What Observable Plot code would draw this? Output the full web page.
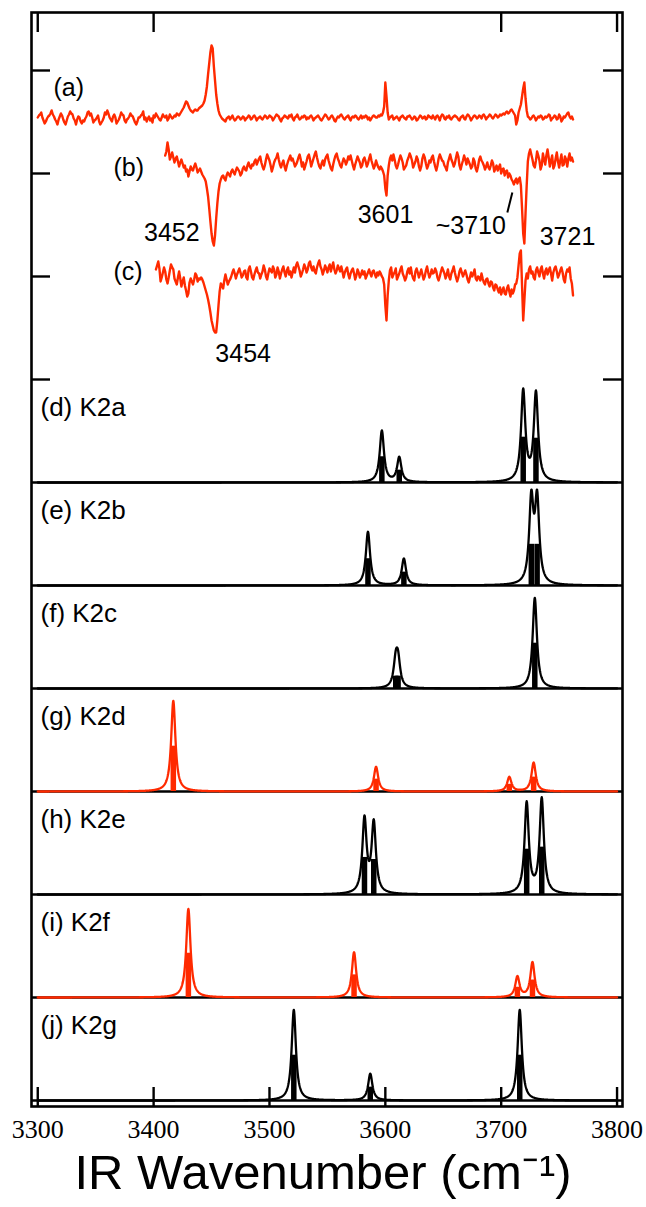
<!DOCTYPE html>
<html>
<head>
<meta charset="utf-8">
<script src="https://cdn.jsdelivr.net/npm/d3@7"></script>
<script src="https://cdn.jsdelivr.net/npm/@observablehq/plot@0.6"></script>
<style>
  body { margin: 0; background: #fff; }
  #chart svg { display: block; }
</style>
</head>
<body>
<div id="chart"></div>
<script>
// ---- axis ticks -------------------------------------------------------
const xTicks = [3300, 3400, 3500, 3600, 3700, 3800];
const topTicks = [3300, 3400, 3700, 3800];
const sideTicks = [7, 8, 9, 10];

// ---- measured IR spectra (a)-(c), sampled every 1 cm-1 ---------------
const traceLabels = ["(a)", "(b)", "(c)"];
const traceStart = [3300, 3410, 3402];
const traceA = [
  1,3,4,6,1,-2,-5,-3,0,2,3,5,8,4,2,-1,-3,-6,-1,2,
  5,3,-1,-4,-6,-2,2,4,7,5,4,0,-2,-6,-1,2,1,-3,-5,-2,
  -3,0,2,6,7,3,5,1,-4,-2,-1,1,3,-3,-6,-4,-2,1,6,4,
  8,5,1,-1,-3,2,4,1,-5,-3,-1,2,6,4,3,-2,-4,-1,0,2,
  5,3,2,-1,-4,-6,-3,1,1,3,4,7,-1,1,-3,0,2,-2,0,-4,
  3,1,5,3,1,-1,-2,1,4,2,1,3,-2,0,4,2,0,1,3,2,
  5,4,3,5,7,9,11,14,17,16,13,10,8,7,6,8,9,8,8,10,
  11,12,13,15,18,24,32,44,55,66,73,70,52,38,24,15,8,4,2,0,
  -1,-2,-3,0,1,2,-1,1,3,0,-2,-1,1,2,1,-1,0,2,1,-2,
  0,1,3,2,-1,0,2,3,1,-2,0,1,2,0,-1,1,3,2,0,1,
  3,2,1,-2,0,2,4,3,2,-1,-3,0,1,3,2,1,0,3,2,4,
  0,-2,1,2,4,1,-1,0,2,1,3,2,-1,1,0,2,3,1,-2,0,
  1,2,3,1,-1,-2,0,2,4,3,1,-1,0,2,3,1,-2,-3,0,2,
  1,3,4,2,0,-1,1,2,3,0,-2,1,2,1,3,2,0,-1,1,3,
  0,2,1,3,2,-1,1,-2,0,2,3,2,1,1,3,2,4,3,6,12,
  36,22,6,-1,1,2,3,-1,0,1,2,0,-2,1,2,3,1,0,-1,2,
  2,3,1,-1,0,2,1,-2,-1,1,3,2,0,1,2,-1,0,3,2,1,
  0,3,1,-1,2,3,1,-2,2,4,3,0,-1,2,1,3,0,-1,1,2,
  3,2,1,-1,-2,1,2,3,0,-1,2,4,3,1,-2,0,2,3,2,0,
  1,3,2,0,3,4,2,-1,1,2,4,3,1,0,2,4,3,1,2,4,
  3,4,5,4,6,7,5,6,8,9,7,5,3,-6,-2,6,10,14,22,30,
  36,20,8,2,1,-1,0,2,3,1,-2,0,2,1,3,2,-1,0,2,1,
  2,4,3,-2,0,1,3,2,-1,0,4,2,-3,-1,2,1,3,5,6,2,
  0,2,-1
];
const traceB = [
  8,12,21,14,4,7,11,6,1,5,7,2,-3,1,4,0,-4,-2,-8,-6,
  -13,-8,-3,-6,-7,-3,0,-4,-9,-7,-5,-8,-11,-13,-15,-18,-25,-33,-45,-58,
  -70,-78,-82,-72,-55,-40,-28,-20,-16,-13,-12,-15,-17,-12,-9,-11,-13,-8,-6,-9,
  -11,-7,-4,-6,-8,-12,-10,-5,-3,-6,-7,-2,1,-3,-5,-1,-2,2,4,-1,
  2,5,7,1,-3,-6,-2,4,9,6,3,-2,-8,-4,1,4,6,10,4,-1,
  -4,0,3,-3,-7,-2,2,5,8,3,5,1,-3,-1,2,6,9,4,-3,1,
  -6,-2,2,7,9,4,-3,1,5,9,12,6,1,-3,-5,0,3,-2,4,7,
  9,3,-1,-5,-7,-1,4,8,10,5,2,-2,-4,1,5,3,-1,2,7,4,
  8,3,-2,-6,-1,3,7,4,1,-4,-2,4,6,2,-3,0,5,9,3,-1,
  -5,-2,3,-1,-4,-6,-3,-5,-8,-12,-25,-32,-12,-2,5,8,3,9,4,-2,
  -5,-1,4,8,5,1,-6,-4,-2,3,6,10,7,3,-4,-1,2,7,4,-3,
  -7,-3,5,9,6,0,-5,-2,3,1,6,8,2,-3,-7,-2,5,9,6,3,
  2,-2,-4,-7,1,5,9,4,1,-3,0,6,11,7,-2,-6,-1,3,8,4,
  -1,5,2,-1,-5,-3,5,2,-5,-8,-3,4,7,3,1,-2,-6,-3,1,-4,
  -6,-2,3,0,-8,-5,-2,-7,-4,-1,-10,-6,-5,-12,-8,-7,-14,-10,-12,-16,
  -18,-21,-17,-15,-20,-16,-14,-22,-45,-70,-80,-50,-22,2,10,14,9,4,-2,-4,
  3,12,8,3,-6,-2,10,4,-1,8,14,6,-3,3,8,-5,-2,5,11,2,
  -4,3,9,-2,-1,7,4,-3,5,10,3,6,2
];
const traceC = [
  6,10,14,7,-6,-2,3,8,4,-4,-8,-2,5,11,8,6,-3,-6,-9,-2,
  4,-3,-11,-6,-2,-10,-15,-21,-18,-7,-3,-6,-9,-4,2,0,-6,-3,-4,-2,
  -4,-7,-11,-15,-19,-24,-30,-37,-45,-50,-55,-57,-57,-45,-30,-16,-8,-10,-13,-5,
  1,-4,-9,-6,-4,-1,3,6,2,-3,1,4,7,3,-2,0,4,5,-2,-4,
  6,9,4,-2,-4,1,5,8,3,2,-3,1,4,10,6,-1,-4,2,7,5,
  3,9,6,-2,1,8,4,-3,2,6,9,3,-1,5,8,1,4,-2,3,8,
  3,10,13,9,5,-1,2,6,11,8,3,6,12,14,8,5,9,4,2,8,
  12,15,9,6,1,5,10,7,3,8,11,4,9,13,6,2,5,10,7,4,
  9,4,-2,3,6,8,1,-3,2,5,7,2,-4,0,6,3,-2,1,5,1,
  4,-3,0,3,6,2,-1,4,5,1,-2,3,0,4,2,-1,-3,-9,-30,-45,
  -20,-5,5,8,-2,1,3,7,-4,-1,2,6,9,2,-1,-5,-2,4,7,2,
  8,1,-3,-5,4,7,3,-2,2,6,1,-4,-1,5,9,3,-2,1,6,2,
  3,7,4,-2,-5,-1,4,8,5,2,-3,1,6,-1,-4,2,5,9,3,-2,
  -6,-2,4,7,3,-1,2,5,1,-4,-7,-2,3,-1,2,6,-3,-5,-1,-2,
  -5,2,-3,-7,-9,-4,-3,-8,-11,-6,-7,-12,-15,-9,-10,-14,-17,-12,-19,-15,
  -12,-18,-19,-13,-10,-16,-21,-14,-18,-15,-9,-8,-2,10,22,25,-10,-45,-25,-5,
  2,-3,6,9,2,4,-2,-4,5,8,3,-1,6,9,2,-3,4,7,1,5,
  8,2,-5,3,7,9,4,-2,1,5,8,3,-4,-7,2,6,4,8,-3,-8,
  -20
];

// peak assignments written under traces (b) and (c)
const peakTexts = ["3452", "3601", "~3710", "3721", "3454"];
const peakWaves = [3452, 3601, 3710, 3721, 3454];

// ---- computed harmonic spectra (d)-(j): stick frequency / intensity --
const isomers = ["(d) K2a", "(e) K2b", "(f) K2c", "(g) K2d", "(h) K2e", "(i) K2f", "(j) K2g"];
const stickFreq = [
  [3597, 3612, 3719, 3730],
  [3585, 3616, 3726, 3731],
  [3609, 3611, 3729],
  [3417, 3592, 3707, 3728],
  [3582, 3590, 3722, 3735],
  [3430, 3573, 3714, 3727],
  [3521, 3587, 3716]
];
const stickInt = [
  [0.25, 0.12, 0.44, 0.43],
  [0.26, 0.13, 0.40, 0.40],
  [0.12, 0.12, 0.44],
  [0.44, 0.12, 0.07, 0.14],
  [0.36, 0.34, 0.44, 0.46],
  [0.43, 0.22, 0.10, 0.17],
  [0.44, 0.13, 0.44]
];
const matchesExperiment = [false, false, false, true, false, true, false];

// ---- layout -----------------------------------------------------------
const RED = "#ff2a00";
const FONT = "Liberation Sans, Arial, Helvetica, sans-serif";
const PX = 1 / 103;              // one panel = 103 px
const xDom = [3294.6, 3804.7];
const yDom = [-0.058, 10.563];
const XPX = 1 / 1.159;           // cm-1 per px
const GAMMA = 2.2;               // Lorentzian half width (cm-1)
const traceBase = [9.534, 9.097, 8.010];

// panel baselines: (d) at 6 ... (j) at 0
const panelBase = isomers.map((_, i) => isomers.length - 1 - i);

// Lorentzian-broadened stick spectra
const curves = [];
const sticks = [];
isomers.forEach((name, p) => {
  const base = panelBase[p];
  const color = matchesExperiment[p] ? RED : "black";
  for (let w = 3300; w <= 3800.001; w += 0.25) {
    let s = 0;
    stickFreq[p].forEach((f, k) => {
      s += 2 * stickInt[p][k] * GAMMA * GAMMA / ((w - f) ** 2 + GAMMA * GAMMA);
    });
    curves.push({panel: name, w, y: base + s, color});
  }
  stickFreq[p].forEach((f, k) => {
    sticks.push({w: f, y1: base, y2: base + stickInt[p][k], color});
  });
});

// experimental traces
const traces = [];
[traceA, traceB, traceC].forEach((arr, t) => {
  arr.forEach((v, i) => {
    traces.push({trace: traceLabels[t], w: traceStart[t] + i, y: traceBase[t] + v * PX});
  });
});

const bIdx = 1, cIdx = 2;
const annotations = [
  {text: peakTexts[0], w: peakWaves[0], y: traceBase[bIdx] - 69 * PX, dx: -42},
  {text: peakTexts[1], w: peakWaves[1], y: traceBase[bIdx] - 51.5 * PX, dx: -1},
  {text: peakTexts[2], w: peakWaves[2], y: traceBase[bIdx] - 62 * PX, dx: -42},
  {text: peakTexts[3], w: peakWaves[3], y: traceBase[bIdx] - 73 * PX, dx: 42},
  {text: peakTexts[4], w: peakWaves[4], y: traceBase[cIdx] - 79 * PX, dx: 27}
];

const traceLabelPos = [
  {text: traceLabels[0], y: traceBase[0] + 30.5 * PX, dx: 22},
  {text: traceLabels[1], y: traceBase[1] - 4 * PX, dx: 82},
  {text: traceLabels[2], y: traceBase[2] + 3 * PX, dx: 82}
];

const textStyle = {lineAnchor: "middle", fontFamily: FONT, fontSize: 25, fill: "black"};

const chart = Plot.plot({
  width: 646,
  height: 1207,
  marginTop: 12,
  marginLeft: 31,
  marginRight: 24,
  marginBottom: 101,
  x: {domain: xDom, axis: null},
  y: {domain: yDom, axis: null},
  marks: [
    // baselines / panel separators
    Plot.ruleY(panelBase, {x1: xDom[0], x2: xDom[1], stroke: "black", strokeWidth: 2.4}),
    // stick intensities
    Plot.ruleX(sticks, {x: "w", y1: "y1", y2: "y2", stroke: "color", strokeWidth: 5.5}),
    // broadened spectra
    Plot.line(curves, {x: "w", y: "y", z: "panel", stroke: "color", strokeWidth: 2.3}),
    // measured spectra
    Plot.line(traces, {x: "w", y: "y", z: "trace", stroke: RED, strokeWidth: 2.4, strokeLinejoin: "round"}),
    // frame and ticks
    Plot.frame({stroke: "black", strokeWidth: 2.6}),
    Plot.ruleX(xTicks, {y1: yDom[0], y2: yDom[0] + 19 * PX, stroke: "black", strokeWidth: 2.4}),
    Plot.ruleX(topTicks, {y1: yDom[1], y2: yDom[1] - 20 * PX, stroke: "black", strokeWidth: 2.4}),
    Plot.ruleY(sideTicks, {x1: xDom[0], x2: xDom[0] + 19 * XPX, stroke: "black", strokeWidth: 2.4}),
    Plot.ruleY(sideTicks, {x1: xDom[1] - 19 * XPX, x2: xDom[1], stroke: "black", strokeWidth: 2.4}),
    // tick labels
    Plot.text(xTicks, {x: d => d, y: yDom[0], dy: 23, text: d => String(d),
      fontFamily: "Liberation Serif, Times New Roman, serif", fontSize: 26, fill: "black", lineAnchor: "middle"}),
    // axis title
    Plot.text(["IR Wavenumber (cm\u207B\u00B9)"], {frameAnchor: "bottom", dy: 67, dx: -4, fontFamily: FONT,
      fontSize: 49, fill: "black", lineAnchor: "middle"}),
    // panel names
    Plot.text(isomers, {frameAnchor: "left", y: (d, i) => panelBase[i] + 75 * PX, dx: 9,
      textAnchor: "start", ...textStyle, fontSize: 26}),
    ...traceLabelPos.map(t => Plot.text([t], {frameAnchor: "left", y: "y", text: "text", dx: t.dx,
      textAnchor: "start", ...textStyle})),
    // peak assignments
    ...annotations.map(a => Plot.text([a], {x: "w", y: "y", text: "text", dx: a.dx, ...textStyle})),
    Plot.link([{x1: peakWaves[2] - 4.7, x2: peakWaves[2] - 0.4,
                y1: traceBase[bIdx] - 49 * PX, y2: traceBase[bIdx] - 29 * PX}],
      {x1: "x1", y1: "y1", x2: "x2", y2: "y2", stroke: "black", strokeWidth: 2})
  ]
});

document.getElementById("chart").appendChild(chart);
</script>
</body>
</html>
